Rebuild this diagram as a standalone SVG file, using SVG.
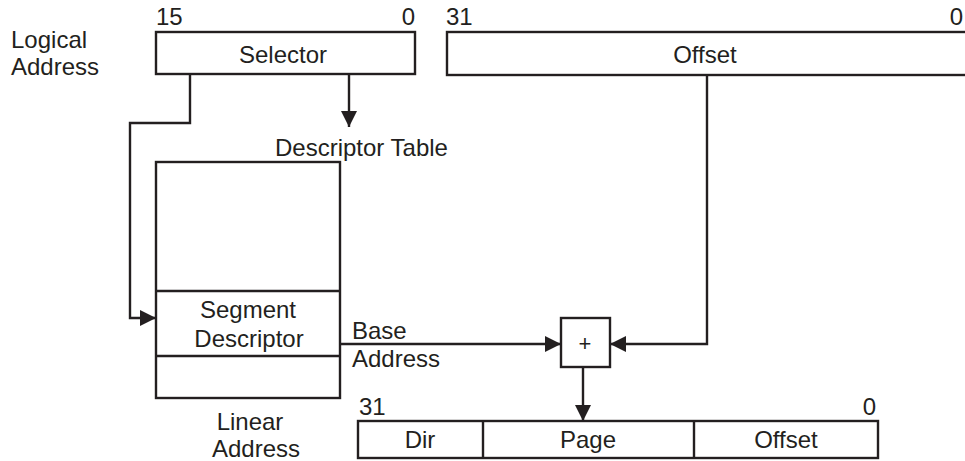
<svg xmlns="http://www.w3.org/2000/svg" width="965" height="461" viewBox="0 0 965 461">
<style>
.box{fill:#fff;stroke:#231f20;stroke-width:2.4}
.ln{fill:none;stroke:#231f20;stroke-width:2.4}
text{font-family:"Liberation Sans",Arial,sans-serif;font-size:24px;fill:#231f20}
.c{text-anchor:middle}
.e{text-anchor:end}
</style>
<defs>
<marker id="ah" markerWidth="17" markerHeight="17" refX="16" refY="8" orient="auto" markerUnits="userSpaceOnUse">
<path d="M0,0 L16,8 L0,16 Z" fill="#231f20"/>
</marker>
</defs>
<rect width="965" height="461" fill="#fff"/>
<g id="logical-label">
<text x="11" y="48">Logical</text>
<text x="11" y="75">Address</text>
</g>
<g id="selector">
<rect class="box" x="156" y="32" width="259" height="42"/>
<text x="156" y="25">15</text>
<text class="e" x="415" y="25">0</text>
<text class="c" x="283" y="63">Selector</text>
</g>
<g id="offset">
<rect class="box" x="447" y="32" width="525" height="43"/>
<text x="446" y="25">31</text>
<text class="e" x="963" y="25">0</text>
<text class="c" x="705" y="63">Offset</text>
</g>
<g id="descriptor-table">
<text x="275" y="156">Descriptor Table</text>
<rect class="box" x="156" y="162" width="184" height="236"/>
<line class="ln" x1="156" y1="291" x2="340" y2="291"/>
<line class="ln" x1="156" y1="356" x2="340" y2="356"/>
<text class="c" x="248" y="318">Segment</text>
<text class="c" x="249" y="347">Descriptor</text>
</g>
<g id="adder">
<rect class="box" x="561" y="318" width="49" height="49"/>
<text class="c" x="585" y="351" style="font-size:22px">+</text>
</g>
<g id="linear-address">
<text class="c" x="250" y="430">Linear</text>
<text class="c" x="256" y="457">Address</text>
<rect class="box" x="358" y="421" width="520" height="37"/>
<line class="ln" x1="483" y1="421" x2="483" y2="458"/>
<line class="ln" x1="694" y1="421" x2="694" y2="458"/>
<text x="359" y="415">31</text>
<text class="e" x="876" y="415">0</text>
<text class="c" x="420" y="448">Dir</text>
<text class="c" x="588" y="448">Page</text>
<text class="c" x="786" y="448">Offset</text>
</g>
<g id="connectors">
<polyline class="ln" points="349,74 349,127" marker-end="url(#ah)"/>
<polyline class="ln" points="190,74 190,123 130,123 130,318 156,318" marker-end="url(#ah)"/>
<polyline class="ln" points="340,344 561,344" marker-end="url(#ah)"/>
<polyline class="ln" points="707,75 707,344 610,344" marker-end="url(#ah)"/>
<polyline class="ln" points="583,367 583,421" marker-end="url(#ah)"/>
<text x="352" y="339">Base</text>
<text x="352" y="367">Address</text>
</g>
</svg>
